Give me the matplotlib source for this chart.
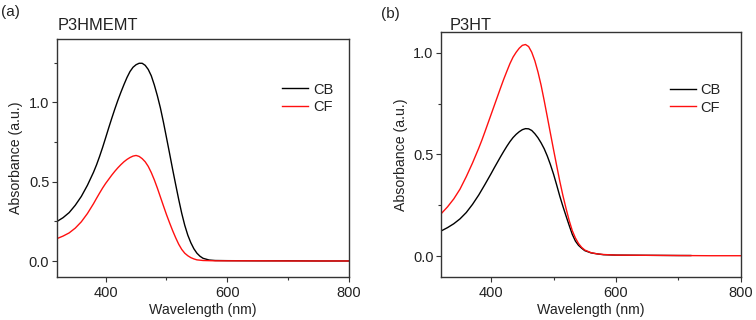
import matplotlib
matplotlib.use("Agg")
import matplotlib.pyplot as plt
from matplotlib.ticker import MultipleLocator

plt.rcParams['font.family'] = ['Liberation Sans', 'DejaVu Sans']

# ---- Panel (a): P3HMEMT ----
wl_a = [320, 330, 340, 350, 360, 370, 380, 385, 390, 395, 400, 405, 410, 415, 420,
        425, 430, 435, 440, 445, 450, 455, 460, 465, 470, 475, 480, 485, 490, 495,
        500, 505, 510, 515, 520, 525, 530, 535, 540, 545, 550, 555, 560, 570, 580,
        600, 650, 700, 750, 800]
a_cb = [0.250, 0.274, 0.306, 0.352, 0.408, 0.478, 0.560, 0.607, 0.660, 0.717, 0.778,
        0.840, 0.900, 0.958, 1.013, 1.064, 1.112, 1.157, 1.195, 1.222, 1.238, 1.247,
        1.247, 1.234, 1.208, 1.168, 1.110, 1.042, 0.965, 0.875, 0.778, 0.680, 0.580,
        0.484, 0.390, 0.302, 0.226, 0.164, 0.116, 0.078, 0.050, 0.031, 0.018, 0.007,
        0.004, 0.003, 0.002, 0.002, 0.001, 0.001]
a_cf = [0.142, 0.158, 0.178, 0.208, 0.248, 0.300, 0.362, 0.396, 0.429, 0.461, 0.490,
        0.516, 0.542, 0.566, 0.588, 0.608, 0.626, 0.641, 0.653, 0.662, 0.666, 0.660,
        0.646, 0.626, 0.597, 0.558, 0.512, 0.460, 0.404, 0.348, 0.293, 0.242, 0.193,
        0.148, 0.107, 0.074, 0.050, 0.034, 0.022, 0.014, 0.008, 0.006, 0.004, 0.003,
        0.002, 0.002, 0.002, 0.001, 0.001, 0.001]

# ---- Panel (b): P3HT ----
wl_b_cb = [320, 330, 340, 350, 360, 370, 380, 385, 390, 395, 400, 405, 410, 415, 420,
           425, 430, 435, 440, 445, 450, 455, 460, 465, 470, 475, 480, 485, 490, 495,
           500, 505, 510, 515, 520, 525, 530, 535, 540, 545, 550, 560, 570, 580, 600,
           650, 700, 720]
b_cb = [0.125, 0.141, 0.160, 0.184, 0.215, 0.255, 0.301, 0.327, 0.353, 0.380, 0.407,
        0.435, 0.462, 0.489, 0.515, 0.540, 0.563, 0.583, 0.599, 0.612, 0.622, 0.627,
        0.626, 0.618, 0.602, 0.582, 0.557, 0.528, 0.492, 0.450, 0.403, 0.350, 0.295,
        0.245, 0.198, 0.152, 0.108, 0.075, 0.054, 0.040, 0.028, 0.017, 0.012, 0.008,
        0.006, 0.005, 0.004, 0.004]
wl_b_cf = [320, 330, 340, 350, 360, 370, 380, 385, 390, 395, 400, 405, 410, 415, 420,
           425, 430, 435, 440, 445, 450, 455, 460, 465, 470, 475, 480, 485, 490, 495,
           500, 505, 510, 515, 520, 525, 530, 535, 540, 545, 550, 560, 570, 580, 600,
           650, 700, 750, 800]
b_cf = [0.210, 0.243, 0.282, 0.330, 0.391, 0.458, 0.531, 0.570, 0.612, 0.655, 0.698,
        0.741, 0.784, 0.827, 0.869, 0.908, 0.946, 0.978, 1.002, 1.022, 1.036, 1.040,
        1.030, 1.002, 0.960, 0.905, 0.840, 0.764, 0.684, 0.603, 0.523, 0.445, 0.368,
        0.298, 0.235, 0.176, 0.126, 0.090, 0.063, 0.044, 0.031, 0.018, 0.012, 0.009,
        0.006, 0.005, 0.004, 0.003, 0.003]

xticks = [400, 600, 800]
legend_labels = ["CB", "CF"]
titles = ["P3HMEMT", "P3HT"]
panel_tags = ["(a)", "(b)"]

TXT = '#222222'
fig = plt.figure(figsize=(7.56, 3.2), dpi=100)
ax1 = fig.add_axes([57/756, 43/320, 292/756, 238/320])
ax2 = fig.add_axes([441.3/756, 43.3/320, 299.4/756, 244.4/320])

ax1.plot(wl_a, a_cb, color='black', lw=1.0, label=legend_labels[0])
ax1.plot(wl_a, a_cf, color='#ff1010', lw=1.0, label=legend_labels[1])
ax1.set_ylim(-0.1, 1.4)

ax2.plot(wl_b_cb, b_cb, color='black', lw=1.0, label=legend_labels[0])
ax2.plot(wl_b_cf, b_cf, color='#ff1010', lw=1.0, label=legend_labels[1])
ax2.set_ylim(-0.1, 1.1)

for ax, leg_anchor in [(ax1, (0.772, 0.817)), (ax2, (0.764, 0.793))]:
    ax.set_xlim(320, 800)
    ax.set_xticks(xticks)
    ax.xaxis.set_minor_locator(MultipleLocator(100))
    ax.yaxis.set_major_locator(MultipleLocator(0.5))
    ax.yaxis.set_minor_locator(MultipleLocator(0.25))
    ax.tick_params(which='major', direction='out', length=3.5, width=0.8,
                   labelsize=10.5, colors='#333333', labelcolor=TXT)
    ax.tick_params(axis='x', which='major', pad=3)
    ax.tick_params(axis='y', which='major', pad=2)
    ax.tick_params(which='minor', direction='out', length=2.3, width=0.8, colors='#333333')
    for s in ax.spines.values():
        s.set_color('#333333')
        s.set_linewidth(1.0)
    ax.set_xlabel('Wavelength (nm)', fontsize=10.2, color=TXT, labelpad=2)
    ax.set_ylabel('Absorbance (a.u.)', fontsize=10.2, color=TXT, labelpad=4)
    leg = ax.legend(loc='upper left', bbox_to_anchor=leg_anchor, frameon=False,
                    fontsize=10.5, handlelength=1.75, handletextpad=0.35,
                    labelspacing=0.25, borderpad=0, borderaxespad=0)
    for t in leg.get_texts():
        t.set_color(TXT)

fig.text(1/756, 1 - 12/320, panel_tags[0], fontsize=11, color=TXT, va='center', ha='left')
fig.text(58/756, 1 - 25/320, titles[0], fontsize=11.8, color=TXT, va='center', ha='left')
fig.text(381/756, 1 - 14/320, panel_tags[1], fontsize=11, color=TXT, va='center', ha='left')
fig.text(450/756, 1 - 26/320, titles[1], fontsize=11.8, color=TXT, va='center', ha='left')

fig.savefig('out.png', dpi=100)
